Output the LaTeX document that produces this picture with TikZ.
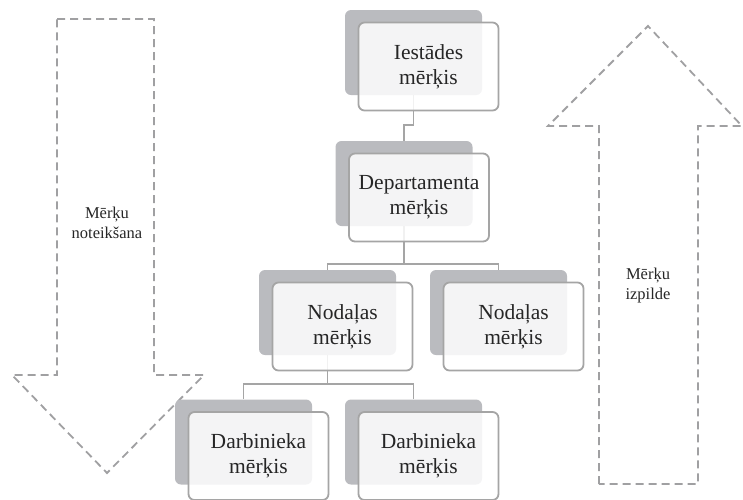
\documentclass[tikz,border=0pt]{standalone}
\usepackage{fontspec}
\setmainfont{Liberation Serif}
\definecolor{backgray}{RGB}{186,187,191}
\definecolor{linegray}{RGB}{165,165,165}
\definecolor{dashgray}{RGB}{160,160,162}
\tikzset{
  backbox/.style={rectangle, rounded corners=6pt, fill=backgray,
    minimum width=137pt, minimum height=85pt},
  frontbox/.style={rectangle, rounded corners=6pt, draw=linegray, line width=1.8pt,
    fill=white, fill opacity=0.85, text opacity=1, text=black!85,
    minimum width=140pt, minimum height=88pt, align=center,
    font=\fontsize{21.5}{25}\selectfont, xshift=15pt, yshift=-14pt},
  link/.style={draw=linegray, line width=1.6pt},
  bigarrow/.style={draw=dashgray, line width=1.8pt, dash pattern=on 8pt off 5pt},
  arrowlabel/.style={align=center, text=black!85, font=\fontsize{16.5}{20}\selectfont}
}
\begin{document}
\begin{tikzpicture}[x=1pt, y=-1pt]
    \useasboundingbox (0,0) rectangle (743,499);

    % Draw dashed arrows
    \draw[bigarrow] (57,19) -- (154,19) -- (154,375) -- (204,375) -- (107,473)
        -- (12,375) -- (57,375) -- cycle;
    \draw[bigarrow] (599,484) -- (599,126) -- (548,126) -- (648,26) -- (742,126)
        -- (698,126) -- (698,484) -- cycle;
    \node[arrowlabel] (setting) at (107,223) {Mērķu\\noteikšana};
    \node[arrowlabel] (doing) at (648,286) {Mērķu\\izpilde};

    % Draw back boxes
    \node[backbox] (iestB) at (413.5,52.5) {};
    \node[backbox] (depB) at (404,183.5) {};
    \node[backbox] (nodLB) at (327.5,312.5) {};
    \node[backbox] (nodRB) at (498.5,312.5) {};
    \node[backbox] (darbLB) at (243.5,442) {};
    \node[backbox] (darbRB) at (413.5,442) {};

    % Draw links
    \draw[link] (iestB.south) -- ++(0,30) -| (depB.north);
    \draw[link] (depB.south) -- ++(0,38) -| (nodLB.north);
    \draw[link] (depB.south) -- ++(0,38) -| (nodRB.north);
    \draw[link] (nodLB.south) -- ++(0,29) -| (darbLB.north);
    \draw[link] (nodLB.south) -- ++(0,29) -| (darbRB.north);

    % Draw front boxes
    \node[frontbox] (iest) at (iestB) {Iestādes\\mērķis};
    \node[frontbox] (dep) at (depB) {Departamenta\\mērķis};
    \node[frontbox] (nodL) at (nodLB) {Nodaļas\\mērķis};
    \node[frontbox] (nodR) at (nodRB) {Nodaļas\\mērķis};
    \node[frontbox] (darbL) at (darbLB) {Darbinieka\\mērķis};
    \node[frontbox] (darbR) at (darbRB) {Darbinieka\\mērķis};
\end{tikzpicture}
\end{document}
